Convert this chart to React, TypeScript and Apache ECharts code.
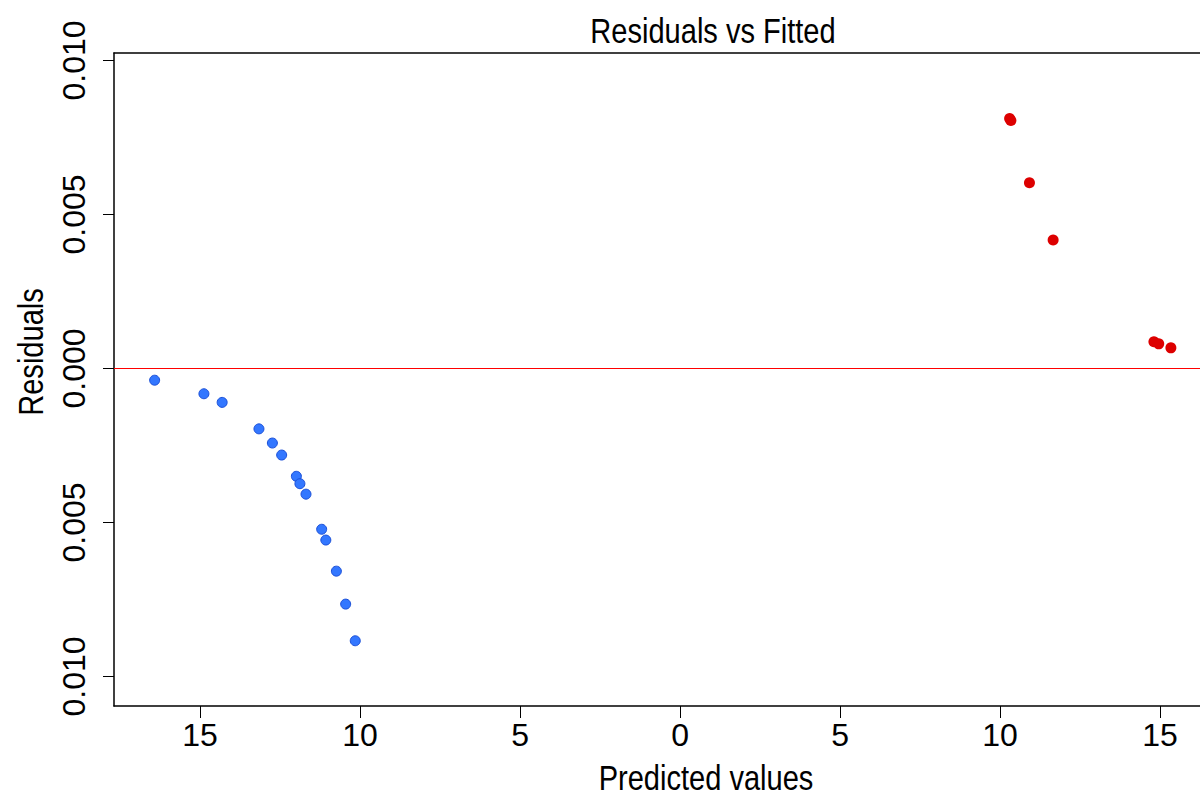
import React, { useEffect, useRef } from "react";
import * as echarts from "echarts";

const blueX = [-16.42, -14.88, -14.31, -13.16, -12.74, -12.45, -11.99, -11.88, -11.69, -11.2, -11.07, -10.74, -10.45, -10.15];
const blueY = [-0.00038, -0.00082, -0.0011, -0.00196, -0.00242, -0.00281, -0.0035, -0.00374, -0.00408, -0.00522, -0.00557, -0.00658, -0.00765, -0.00884];
const redX = [10.3, 10.34, 10.92, 11.66, 14.81, 14.96, 15.34];
const redY = [0.00812, 0.00805, 0.00603, 0.00417, 0.00087, 0.0008, 0.00067];
const xTicks = [-15, -10, -5, 0, 5, 10, 15];
const yTicks = [-0.01, -0.005, 0, 0.005, 0.01];

const FONT = "'Liberation Sans Narrow', 'Liberation Sans', Arial, sans-serif";
const X_MIN = -17.69;
const X_MAX = 16.25;

export default function App() {
  const ref = useRef<HTMLDivElement>(null);
  useEffect(() => {
    if (!ref.current) return;
    const chart = echarts.init(ref.current, null, { renderer: "svg" });
    const blue = blueX.map((x, i) => [x, blueY[i]]);
    const red = redX.map((x, i) => [x, redY[i]]);
    chart.setOption({
      animation: false,
      backgroundColor: "#ffffff",
      grid: { left: 114, top: 53, bottom: 91, right: 0, show: false },
      xAxis: [
        {
          type: "value",
          position: "bottom",
          min: X_MIN,
          max: X_MAX,
          splitLine: { show: false },
          axisLine: { show: true, onZero: false, lineStyle: { color: "#000", width: 1.5 } },
          axisTick: { show: true, length: 12, customValues: xTicks, lineStyle: { color: "#000", width: 1 } },
          axisLabel: {
            customValues: xTicks,
            margin: 13,
            color: "#000",
            fontSize: 32,
            fontFamily: FONT,
            formatter: (v: number) => String(Math.abs(v)),
          },
        },
        {
          type: "value",
          position: "top",
          min: X_MIN,
          max: X_MAX,
          splitLine: { show: false },
          axisLine: { show: true, onZero: false, lineStyle: { color: "#000", width: 1.5 } },
          axisTick: { show: false },
          axisLabel: { show: false },
        },
      ],
      yAxis: {
        type: "value",
        min: -0.010958,
        max: 0.010244,
        splitLine: { show: false },
        axisLine: { show: true, onZero: false, lineStyle: { color: "#000", width: 1.5 } },
        axisTick: { show: true, length: 11, customValues: yTicks, lineStyle: { color: "#000", width: 1 } },
        axisLabel: {
          customValues: yTicks,
          rotate: 90,
          margin: 24,
          color: "#000",
          fontSize: 32,
          fontFamily: FONT,
          formatter: (v: number) => Math.abs(v).toFixed(3),
        },
      },
      graphic: [
        {
          type: "text",
          x: 713,
          y: 31,
          scaleX: 0.83,
          style: { text: "Residuals vs Fitted", fill: "#000", font: `35px ${FONT}`, textAlign: "center", textVerticalAlign: "middle" },
        },
        {
          type: "text",
          x: 706,
          y: 778,
          scaleX: 0.83,
          style: { text: "Predicted values", fill: "#000", font: `35px ${FONT}`, textAlign: "center", textVerticalAlign: "middle" },
        },
        {
          type: "text",
          x: 31,
          y: 352,
          rotation: Math.PI / 2,
          scaleX: 0.83,
          style: { text: "Residuals", fill: "#000", font: `35px ${FONT}`, textAlign: "center", textVerticalAlign: "middle" },
        },
      ],
      series: [
        {
          type: "scatter",
          data: blue,
          symbolSize: 10,
          itemStyle: { color: "#3377ff", borderColor: "#1a4fd8", borderWidth: 1, opacity: 1 },
          markLine: {
            silent: true,
            symbol: "none",
            label: { show: false },
            lineStyle: { color: "#ff0000", width: 1, type: "solid" },
            data: [{ yAxis: 0 }],
          },
        },
        {
          type: "scatter",
          data: red,
          symbolSize: 11,
          itemStyle: { color: "#dd0000", opacity: 1 },
        },
      ],
    });
    return () => chart.dispose();
  }, []);
  return <div ref={ref} style={{ position: "fixed", left: 0, top: 0, width: 1200, height: 797 }} />;
}
